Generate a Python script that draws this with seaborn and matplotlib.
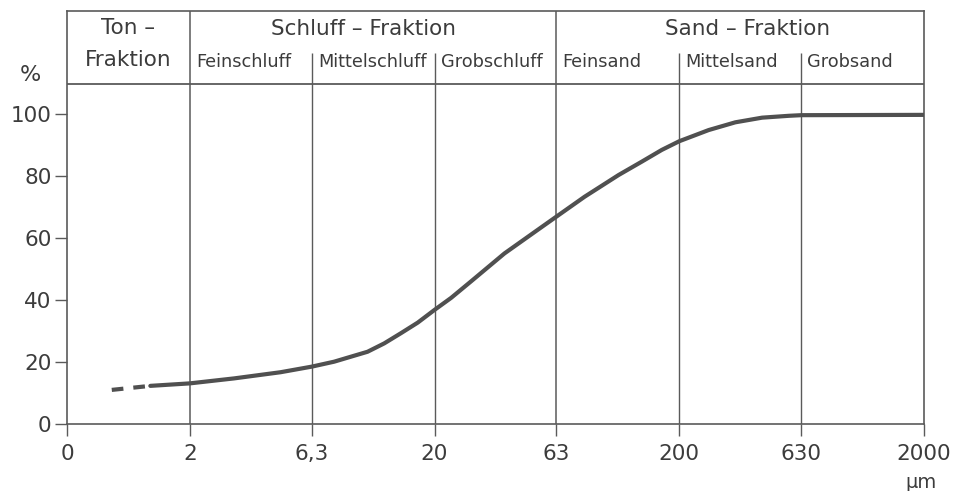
import matplotlib
matplotlib.use("Agg")
import matplotlib.pyplot as plt
import seaborn as sns
import numpy as np

# ---- data ----
size_solid = [1.38, 2.0, 3.03, 4.70, 6.3, 7.78, 9.10, 10.65, 12.46, 14.59, 17.08, 20, 23.4,
              28.3, 38.6, 53.2, 63, 82.1, 113, 140.5, 169.7, 200, 263.7, 339, 436, 561,
              630, 2000]
pct_solid = [12.3, 13.1, 14.7, 16.7, 18.5, 20.1, 21.7, 23.3, 26.0, 29.3, 32.7, 36.8, 40.7,
             46.1, 55.0, 62.8, 66.9, 73.3, 80.3, 84.6, 88.4, 91.2, 94.8, 97.3, 98.8, 99.4,
             99.6, 99.7]
size_dashed = [0.96, 1.38]
pct_dashed = [11.0, 12.3]

x_ticks = [0.63, 2, 6.3, 20, 63, 200, 630, 2000]
x_tick_labels = ["0", "2", "6,3", "20", "63", "200", "630", "2000"]
y_ticks = [0, 20, 40, 60, 80, 100]

major_bounds = [2, 63]
minor_bounds = [6.3, 20, 200, 630]
fractions = ["Ton –", "Schluff – Fraktion", "Sand – Fraktion"]
sub_labels = ["Feinschluff", "Mittelschluff", "Grobschluff", "Feinsand", "Mittelsand", "Grobsand"]
sub_starts = [2, 6.3, 20, 63, 200, 630]

# ---- style ----
sns.set_style("white")
plt.rcParams["font.family"] = ["DejaVu Sans"]
LC = "#5a5a5a"
TC = "#3c3c3c"

fig = plt.figure(figsize=(9.54, 4.91), dpi=100)
ax = fig.add_axes([67/954, 1-424/491, (924-67)/954, (424-11)/491])

YTOP = 133.2
HEAD_BOT = 109.7
SUB_TOP = 119.7

ax.set_xscale("log")
ax.set_xlim(0.63, 2000)
ax.set_ylim(0, YTOP)

# grid / divider lines
ax.vlines(major_bounds, 0, YTOP, color=LC, lw=1.1, zorder=1)
ax.vlines(minor_bounds, 0, SUB_TOP, color=LC, lw=1.0, zorder=1)
ax.hlines(HEAD_BOT, 0.63, 2000, color=LC, lw=1.3, zorder=1)

# curve
sns.lineplot(x=size_solid, y=pct_solid, ax=ax, color="#505050", lw=3.0, zorder=3)
sns.lineplot(x=size_dashed, y=pct_dashed, ax=ax, color="#505050", lw=3.0, zorder=3,
             linestyle=(0, (2.8, 2.4)))

# header texts
HF = 15.5
ax.text(1.12, 125.8, "Ton –", ha="center", va="baseline", fontsize=HF, color=TC)
ax.text(1.12, 115.6, "Fraktion", ha="center", va="baseline", fontsize=HF, color=TC)
ax.text(10.3, 125.3, fractions[1], ha="center", va="baseline", fontsize=HF, color=TC)
ax.text(379, 125.3, fractions[2], ha="center", va="baseline", fontsize=HF, color=TC)
for s, lab in zip(sub_starts, sub_labels):
    ax.annotate(lab, xy=(s, 115.3), xytext=(4.5, 0), textcoords="offset points",
                ha="left", va="baseline", fontsize=12.8, color=TC)

# ticks
ax.set_xticks(x_ticks)
ax.set_xticklabels(x_tick_labels)
ax.xaxis.set_minor_locator(matplotlib.ticker.NullLocator())
ax.set_yticks(y_ticks)
ax.set_yticklabels([str(v) for v in y_ticks])
ax.tick_params(axis="x", direction="out", length=8.6, width=1.0, color=LC,
               labelsize=15.5, labelcolor=TC, pad=6, bottom=True)
ax.tick_params(axis="y", direction="out", length=8.6, width=1.0, color=LC,
               labelsize=15.5, labelcolor=TC, pad=2.5, left=True)

for sp in ax.spines.values():
    sp.set_color(LC)
    sp.set_linewidth(1.2)
    sp.set_visible(True)

fig.text(30/954, 1-75/491, "%", ha="center", va="center", fontsize=16, color=TC)
fig.text(921/954, 1-483/491, "µm", ha="center", va="center", fontsize=14, color=TC)

fig.savefig("out.png", dpi=100)
